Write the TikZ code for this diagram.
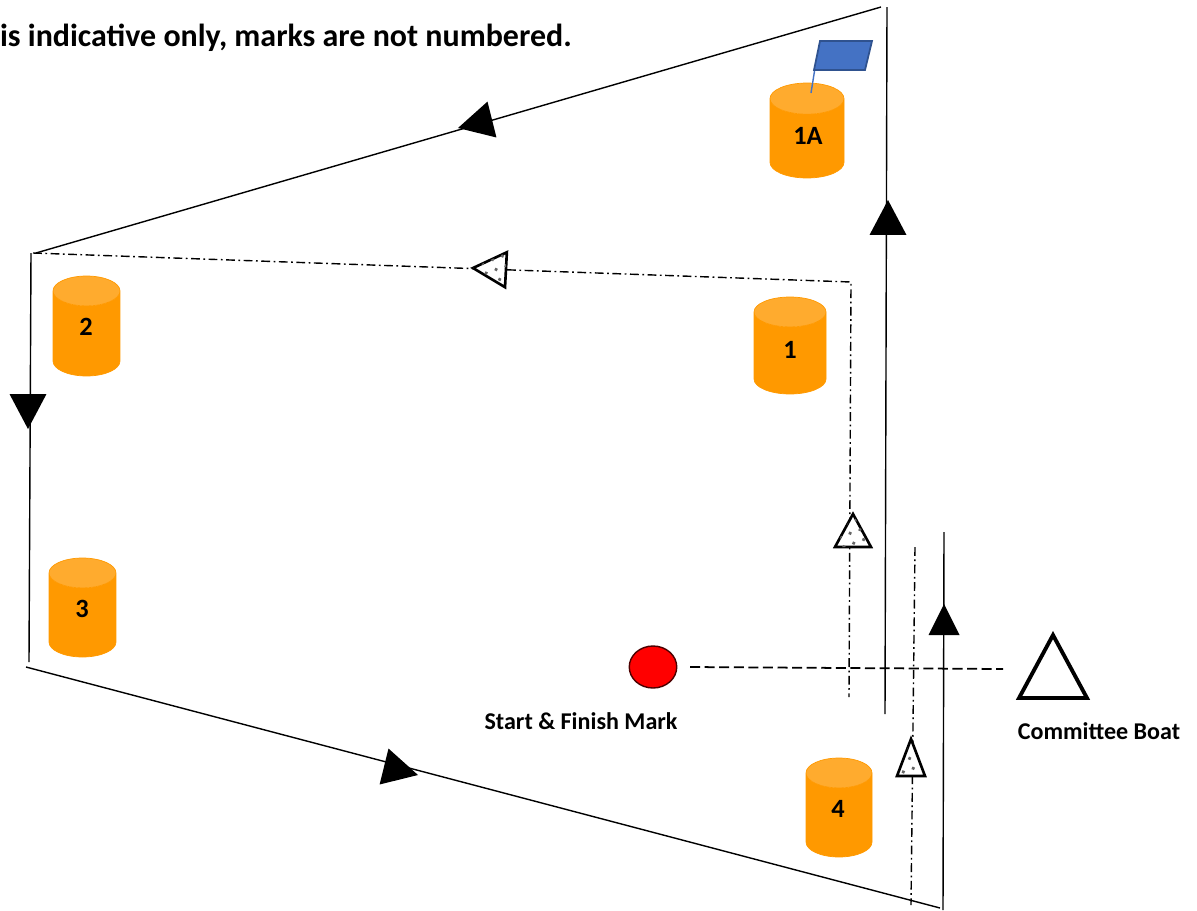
\documentclass[tikz,border=0pt]{standalone}
\usepackage{fontspec}
\setmainfont{Carlito}
\usetikzlibrary{shapes.geometric, patterns.meta}
\definecolor{buoybody}{HTML}{FF9900}
\definecolor{buoytop}{HTML}{FFAB2E}
\definecolor{flagblue}{HTML}{4472C4}
\definecolor{flagedge}{HTML}{2F528F}

\begin{document}
\begin{tikzpicture}[x=0.02cm, y=-0.02cm,
buoy/.style={cylinder, anchor=shape center, shape border rotate=90, shape aspect=2.3, text width=0.26cm, cylinder uses custom fill, cylinder body fill=buoybody, cylinder end fill=buoytop, draw=buoybody, inner sep=0pt},
buoytext/.style={font=\bfseries\fontsize{15}{17}\selectfont},
course/.style={thick, color=black},
roundlap/.style={thick, dash pattern=on 5pt off 2pt on 1pt off 2pt},
headtri/.style={isosceles triangle, isosceles triangle stretches, anchor=apex, inner sep=0pt, outer sep=0pt, minimum width=0.74cm, minimum height=0.7cm, fill=black},
lapTri/.style={isosceles triangle, isosceles triangle stretches, anchor=apex, inner sep=0pt, outer sep=0pt, draw=black, line width=1.5pt, fill=white, postaction={pattern={Dots[distance=6pt, radius=1.1pt, angle=20]}, pattern color=black!60}},
caption/.style={font=\bfseries\fontsize{13.7}{16}\selectfont}]
\useasboundingbox (0,0) rectangle (1197,910);

\node[anchor=east, font=\bfseries\fontsize{18.2}{21}\selectfont] at (578,38) (notetext) {is indicative only, marks are not numbered.};

% marks
\node[buoy, shape aspect=2.4, minimum width=1.48cm, minimum height=1.9cm] at (807,130.5) (m1A) {};
\node[buoy, minimum width=1.44cm, minimum height=1.94cm] at (790,345.5) (m1) {};
\node[buoy, minimum width=1.34cm, minimum height=2cm] at (86.5,326) (m2) {};
\node[buoy, minimum width=1.34cm, minimum height=1.98cm] at (82.5,607.5) (m3) {};
\node[buoy, minimum width=1.32cm, minimum height=1.98cm] at (839,807.5) (m4) {};
\node[buoytext] at (808,136) (t1A) {1A};
\node[buoytext] at (790,350) (t1m) {1};
\node[buoytext] at (86,327) (t2m) {2};
\node[buoytext] at (82,609) (t3m) {3};
\node[buoytext] at (838,809) (t4m) {4};

% flag on 1A
\draw[color=flagblue, thick] (811,93) -- (815,68);
\draw[fill=flagblue, draw=flagedge, line width=1pt] (820,41) -- (872,41) -- (865,70) -- (814,70) -- cycle;

% outer course
\coordinate (c1) at (887,7);
\coordinate (c1b) at (885,714);
\coordinate (c2) at (881,7);
\coordinate (c3) at (36,253);
\coordinate (c4) at (31,253);
\coordinate (c5) at (29,662);
\coordinate (c6) at (26,667);
\coordinate (c7) at (940,908);
\coordinate (c8) at (944,532);
\coordinate (c9) at (943,910);
\draw[course] (c1) -- (c1b);
\draw[course] (c2) -- (c3);
\draw[course] (c4) -- (c5);
\draw[course] (c6) -- (c7);
\draw[course] (c8) -- (c9);
\node[headtri, rotate=90] at (888,200) (h1) {};
\node[headtri, rotate=194] at (458,128) (h2) {};
\node[headtri, rotate=-90] at (28,429) (h3) {};
\node[headtri, rotate=-14] at (418,775) (h4) {};
\node[headtri, rotate=90, minimum width=0.62cm, minimum height=0.62cm] at (944,604) (h5) {};

% inner course
\coordinate (d1) at (33,253);
\coordinate (d2) at (851,282);
\coordinate (d3) at (849,697);
\coordinate (d4) at (915,547);
\coordinate (d5) at (911,905);
\draw[roundlap] (d1) -- (d2) -- (d3);
\draw[roundlap] (d4) -- (d5);
\node[lapTri, rotate=177, minimum width=0.7cm, minimum height=0.66cm] at (473,268) (t1) {};
\node[lapTri, rotate=90, minimum width=0.72cm, minimum height=0.66cm] at (853,514) (t2) {};
\node[lapTri, rotate=90, minimum width=0.56cm, minimum height=0.74cm] at (911,739) (t3) {};

% start line
\node[ellipse, draw=black!70!red, fill=red, thick, minimum width=0.95cm, minimum height=0.84cm, inner sep=0pt] at (653,667) (startmark) {};
\node[isosceles triangle, isosceles triangle stretches, rotate=90, anchor=apex, draw=black, line width=2.2pt, inner sep=0pt, minimum width=1.36cm, minimum height=1.26cm] at (1053,630) (boat) {};
\coordinate (s1) at (690,667);
\coordinate (s2) at (1003,669);
\draw[line width=1pt, dash pattern=on 5.7pt off 2.6pt] (s1) -- (s2);

\node[caption] at (581,721) (startlabel) {Start \& Finish Mark};
\node[caption] at (1099,731) (boatlabel) {Committee Boat};
\end{tikzpicture}
\end{document}
